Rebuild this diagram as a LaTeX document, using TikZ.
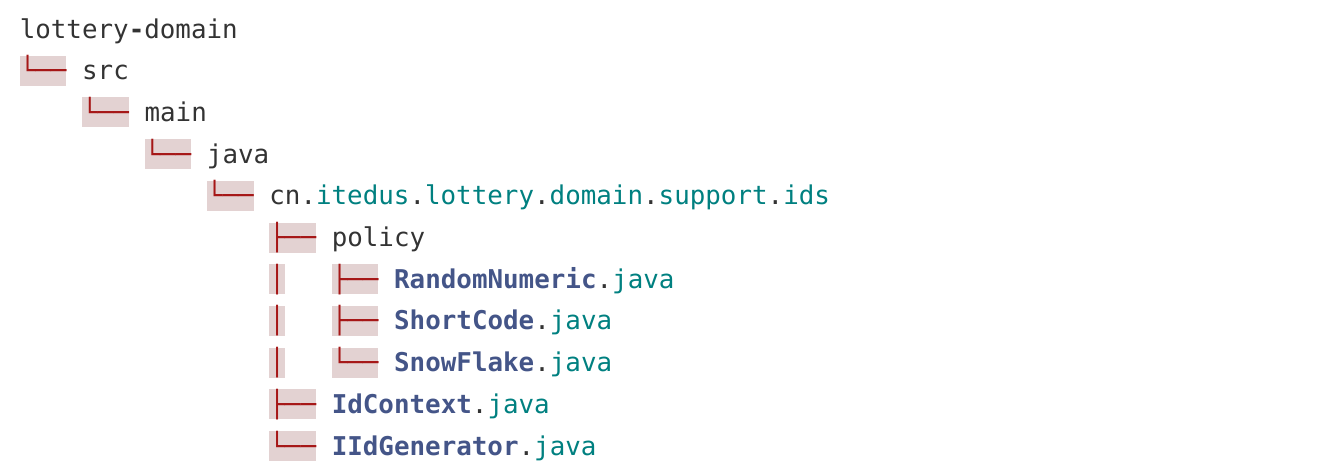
\documentclass[tikz,border=0pt]{standalone}
\usepackage{fontspec}
\setmonofont{DejaVu Sans Mono}
\definecolor{plaintext}{HTML}{333333}
\definecolor{nametext}{HTML}{008080}
\definecolor{classtext}{HTML}{445588}
\definecolor{errtext}{HTML}{A61717}
\definecolor{errfill}{HTML}{E3D2D2}
\newcommand{\nm}[1]{\textcolor{nametext}{#1}}
\newcommand{\cls}[1]{\textcolor{classtext}{\bfseries #1}}

\begin{document}
\begin{tikzpicture}[x=11.7pt,y=-31.275pt]
    \tikzstyle{code}=[font=\ttfamily\fontsize{19.4}{31}\selectfont, text=plaintext, inner sep=0pt, anchor=base west]
    \tikzstyle{branch}=[code, font=\ttfamily\bfseries\fontsize{19.4}{31}\selectfont, text=errtext, fill=errfill, text height=18pt, text depth=4.5pt]
    \useasboundingbox (-14.625pt,28.5pt) rectangle ++(997.5pt,-351pt);

    % header line
    \node[code] (root) at (0,0) {lottery{\bfseries-}domain};
    % single-child chain down to the package
    \node[branch] (B-1) at (0,1) {└──};
    \node[code] (src) at (4,1) {src};
    \node[branch] (B-2) at (4,2) {└──};
    \node[code] (main) at (8,2) {main};
    \node[branch] (B-3) at (8,3) {└──};
    \node[code] (java) at (12,3) {java};
    \node[branch] (B-4) at (12,4) {└──};
    \node[code] (pkg) at (16,4) {cn.\nm{itedus}.\nm{lottery}.\nm{domain}.\nm{support}.\nm{ids}};

    % package contents
    \node[branch] (B-5) at (16,5) {├──};
    \node[code] (policy) at (20,5) {policy};
    \foreach \y in {6,7,8}
        \node[branch] (V-\y) at (16,\y) {│};
    \foreach \name / \y / \tip in {RandomNumeric/6/├──, ShortCode/7/├──, SnowFlake/8/└──} {
        \node[branch] (B-\y) at (20,\y) {\tip};
        \node[code] (\name) at (24,\y) {\cls{\name}.\nm{java}};
    }
    \node[branch] (B-9) at (16,9) {├──};
    \node[code] (IdContext) at (20,9) {\cls{IdContext}.\nm{java}};
    \node[branch] (B-10) at (16,10) {└──};
    \node[code] (IIdGenerator) at (20,10) {\cls{IIdGenerator}.\nm{java}};
\end{tikzpicture}
\end{document}
